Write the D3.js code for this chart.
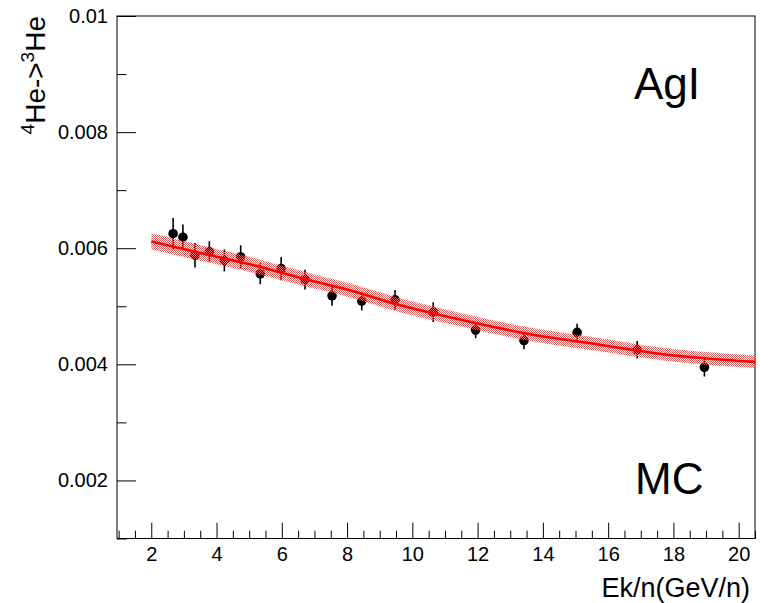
<!DOCTYPE html>
<html>
<head>
<meta charset="utf-8">
<script src="https://cdn.jsdelivr.net/npm/d3@7"></script>
<style>
  html, body { margin: 0; padding: 0; background: #fff; }
  svg { display: block; font-family: "Liberation Sans", Arial, Helvetica, sans-serif; }
</style>
</head>
<body>
<svg id="chart" width="760" height="603"></svg>
<script>
// Measured 4He -> 3He fragmentation ratio (MC), AgI detector
const energy = [2.67, 2.97, 3.34, 3.78, 4.24, 4.74, 5.34, 5.98, 6.71, 7.54, 8.45, 9.47, 10.64, 11.94, 13.42, 15.05, 16.89, 18.95];
const ratio  = [0.00625, 0.00619, 0.00588, 0.00594, 0.00579, 0.00585, 0.00556, 0.00565, 0.00546, 0.00518, 0.00509, 0.00511, 0.00490, 0.00459, 0.00441, 0.00455, 0.00425, 0.00395];
const ratioErr = [0.00027, 0.00022, 0.00021, 0.00018, 0.00019, 0.00020, 0.00018, 0.00020, 0.00017, 0.00017, 0.00016, 0.00017, 0.00017, 0.00014, 0.00015, 0.00015, 0.00015, 0.00016];

// Fitted curve and its uncertainty band
const fitX   = [2.0, 3.48, 5.02, 6.55, 8.08, 9.51, 11.15, 13.6, 15.65, 17.69, 20.5];
const fitY   = [0.006117, 0.005922, 0.005722, 0.005493, 0.005275, 0.005034, 0.004811, 0.004519, 0.004347, 0.004175, 0.004043];
const fitErr = [0.00014, 0.000135, 0.00013, 0.000125, 0.00012, 0.00012, 0.000117, 0.000115, 0.000113, 0.00011, 0.000108];

// Axis ticks and labels
const xMajor = [2, 4, 6, 8, 10, 12, 14, 16, 18, 20];
const xTickLabels = ["2", "4", "6", "8", "10", "12", "14", "16", "18", "20"];
const yMajor = [0.002, 0.004, 0.006, 0.008, 0.01];
const yTickLabels = ["0.002", "0.004", "0.006", "0.008", "0.01"];
const xTitle = "Ek/n(GeV/n)";
const detectorLabel = "AgI";
const sampleLabel = "MC";

const svg = d3.select("#chart");
const frame = { left: 117, right: 755, top: 16, bottom: 538.5 };

const x = d3.scaleLinear().domain([0.95, 20.5]).range([frame.left, frame.right]);
const y = d3.scaleLinear().domain([0.001, 0.01]).range([frame.bottom, frame.top]);

// Checkerboard fill for the band
const defs = svg.append("defs");
const pat = defs.append("pattern")
  .attr("id", "bandFill").attr("patternUnits", "userSpaceOnUse")
  .attr("x", 0).attr("y", 0).attr("width", 2).attr("height", 2);
pat.append("rect").attr("x", 0).attr("y", 0).attr("width", 1).attr("height", 1).attr("fill", "rgb(230,95,95)");
pat.append("rect").attr("x", 1).attr("y", 1).attr("width", 1).attr("height", 1).attr("fill", "rgb(230,95,95)");

const clip = defs.append("clipPath").attr("id", "plotClip");
clip.append("rect").attr("x", frame.left).attr("y", frame.top)
  .attr("width", frame.right - frame.left).attr("height", frame.bottom - frame.top);

// Minor ticks
const xMinor = d3.range(1, 20.51, 0.5).filter(v => !xMajor.includes(v));
const yMinor = d3.range(1, 10.5, 1).map(v => +(v * 0.001).toFixed(3)).filter(v => !yMajor.some(m => Math.abs(m - v) < 1e-9));

svg.append("g").attr("transform", `translate(0,${frame.bottom})`)
  .call(d3.axisBottom(x).tickValues(xMinor).tickSize(-7.8).tickFormat(""))
  .call(g => g.select(".domain").remove());
svg.append("g").attr("transform", `translate(${frame.left},0)`)
  .call(d3.axisLeft(y).tickValues(yMinor).tickSize(-9.5).tickFormat(""))
  .call(g => g.select(".domain").remove());

// Major ticks with labels
svg.append("g").attr("transform", `translate(0,${frame.bottom})`)
  .call(d3.axisBottom(x).tickValues(xMajor).tickSize(-15.7).tickPadding(8)
    .tickFormat((d, i) => xTickLabels[i]))
  .call(g => g.select(".domain").remove());
svg.append("g").attr("transform", `translate(${frame.left},0)`)
  .call(d3.axisLeft(y).tickValues(yMajor).tickSize(-19).tickPadding(9)
    .tickFormat((d, i) => yTickLabels[i]))
  .call(g => g.select(".domain").remove());

svg.selectAll(".tick line").attr("stroke", "#000").attr("stroke-width", 1);
svg.selectAll(".tick text").attr("font-size", 20).attr("fill", "#000")
  .attr("font-family", "'Liberation Sans', Arial, sans-serif");

// Frame
svg.append("rect")
  .attr("x", frame.left).attr("y", frame.top)
  .attr("width", frame.right - frame.left).attr("height", frame.bottom - frame.top)
  .attr("fill", "none").attr("stroke", "#000").attr("stroke-width", 1);

const plot = svg.append("g").attr("clip-path", "url(#plotClip)");

// Data points with error bars
const pts = energy.map((e, i) => ({ e, r: ratio[i], s: ratioErr[i] }));
plot.selectAll("line.err").data(pts).join("line")
  .attr("class", "err")
  .attr("x1", d => x(d.e)).attr("x2", d => x(d.e))
  .attr("y1", d => y(d.r - d.s)).attr("y2", d => y(d.r + d.s))
  .attr("stroke", "#000").attr("stroke-width", 1.6);
plot.selectAll("circle.pt").data(pts).join("circle")
  .attr("class", "pt")
  .attr("cx", d => x(d.e)).attr("cy", d => y(d.r)).attr("r", 4.8)
  .attr("fill", "#000");

// Fit band and central curve
const fit = fitX.map((v, i) => ({ v, f: fitY[i], s: fitErr[i] }));
plot.append("path").datum(fit)
  .attr("d", d3.area().x(d => x(d.v)).y0(d => y(d.f - d.s)).y1(d => y(d.f + d.s)).curve(d3.curveMonotoneX))
  .attr("fill", "url(#bandFill)");
plot.append("path").datum(fit)
  .attr("d", d3.line().x(d => x(d.v)).y(d => y(d.f)).curve(d3.curveMonotoneX))
  .attr("fill", "none").attr("stroke", "#ff0000").attr("stroke-width", 2.6);

// Axis titles
svg.append("text")
  .attr("x", 750).attr("y", 597).attr("text-anchor", "end")
  .attr("font-size", 27).attr("fill", "#000").text(xTitle);

const yt = svg.append("text")
  .attr("transform", "translate(45,16) rotate(-90)")
  .attr("text-anchor", "end").attr("font-size", 28).attr("fill", "#000");
yt.append("tspan").attr("font-size", 19).attr("dy", -11).text("4");
yt.append("tspan").attr("dy", 11).text("He->");
yt.append("tspan").attr("font-size", 19).attr("dy", -11).text("3");
yt.append("tspan").attr("dy", 11).text("He");

// Text labels inside the frame
svg.append("text").attr("x", 634).attr("y", 99)
  .attr("font-size", 44).attr("fill", "#000").text(detectorLabel);
svg.append("text").attr("x", 635).attr("y", 494)
  .attr("font-size", 44).attr("fill", "#000").text(sampleLabel);
</script>
</body>
</html>
